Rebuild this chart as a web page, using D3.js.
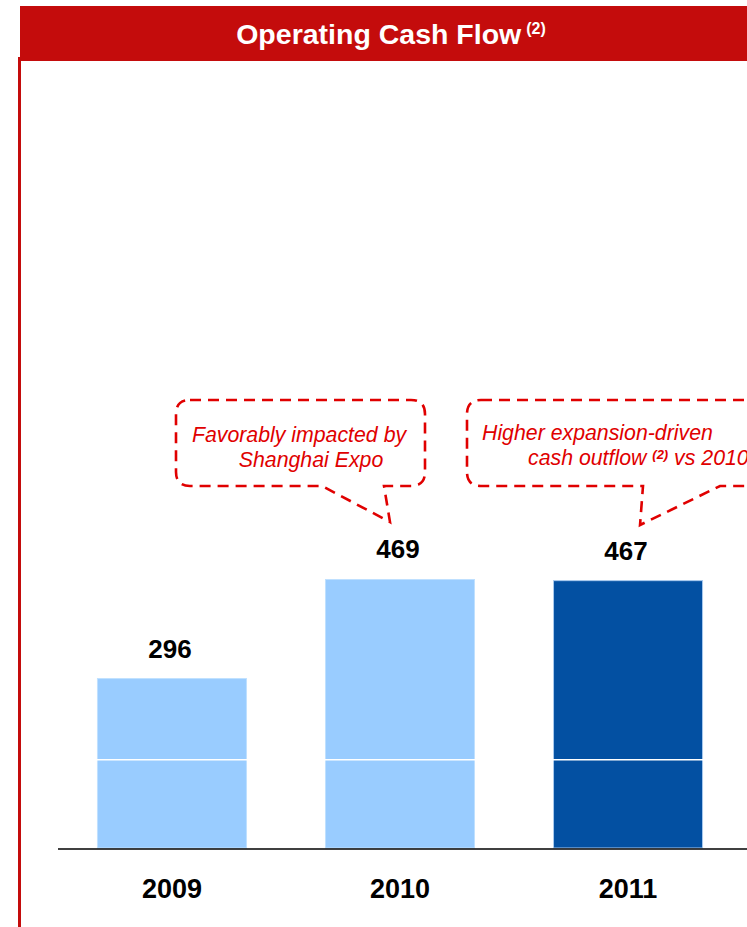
<!DOCTYPE html>
<html>
<head>
<meta charset="utf-8">
<script src="https://cdn.jsdelivr.net/npm/d3@7/dist/d3.min.js"></script>
<style>
html,body{margin:0;padding:0;background:#fff;overflow:hidden;}
svg{display:block;font-family:"Liberation Sans",Arial,sans-serif;}
</style>
</head>
<body>
<svg id="chart" width="747" height="927"></svg>
<script>
const years = ["2009", "2010", "2011"];
const values = [296, 469, 467];
const barColors = ["#99CCFF", "#99CCFF", "#0350A2"];
const dividerValue = [154];
const title = "Operating Cash Flow";
const titleNote = "(2)";

const svg = d3.select("#chart");
const red = "#C40C0C";
const dashRed = "#E00000";

// header
svg.append("rect").attr("x", 20).attr("y", 6).attr("width", 727).attr("height", 55).attr("fill", red);
svg.append("rect").attr("x", 18).attr("y", 57).attr("width", 3).attr("height", 870).attr("fill", red);
const t = svg.append("text").attr("x", 391).attr("y", 44).attr("text-anchor", "middle")
  .attr("fill", "#fff").attr("font-weight", "bold").attr("font-size", 28.5);
t.append("tspan").text(title);
t.append("tspan").attr("font-size", 16).attr("dx", 5).attr("dy", -10).text(titleNote);

// scales
const x = d3.scaleBand().domain(years).range([58, 742]).paddingInner(0.3465).paddingOuter(0.173);
const y = d3.scaleLinear().domain([0, 600]).range([848, 848 - 600 * 0.5725]);

// bars
svg.selectAll("rect.bar").data(years).enter().append("rect").attr("class", "bar")
  .attr("x", d => x(d)).attr("width", x.bandwidth())
  .attr("y", (d, i) => y(values[i])).attr("height", (d, i) => y(0) - y(values[i]))
  .attr("fill", (d, i) => barColors[i])
  .attr("stroke", (d, i) => i === 2 ? "#A9C9EE" : "#BFE0FF").attr("stroke-width", 1);

// divider line
svg.selectAll("line.div").data(dividerValue).enter().append("line")
  .attr("x1", x.range()[0]).attr("x2", x.range()[1])
  .attr("y1", d => y(d)).attr("y2", d => y(d))
  .attr("stroke", "#fff").attr("stroke-width", 1.5);

// axis baseline
svg.append("line").attr("x1", 58).attr("x2", 747).attr("y1", y(0) + 1).attr("y2", y(0) + 1)
  .attr("stroke", "#000").attr("stroke-width", 1.5);

// value labels
svg.selectAll("text.val").data(years).enter().append("text")
  .attr("x", d => x(d) + x.bandwidth() / 2 - 2)
  .attr("y", (d, i) => y(values[i]) - 21)
  .attr("text-anchor", "middle").attr("font-weight", "bold").attr("font-size", 26).attr("fill", "#000")
  .text((d, i) => values[i]);

// year labels
svg.selectAll("text.yr").data(years).enter().append("text")
  .attr("x", d => x(d) + x.bandwidth() / 2)
  .attr("y", 898)
  .attr("text-anchor", "middle").attr("font-weight", "bold").attr("font-size", 27).attr("fill", "#000")
  .text(d => d);

// callouts
function callout(x0, y0, x1, y1, r, tl, tr, tip) {
  const p = d3.path();
  p.moveTo(x0 + r, y0);
  p.lineTo(x1 - r, y0);
  p.quadraticCurveTo(x1, y0, x1, y0 + r);
  p.lineTo(x1, y1 - r);
  p.quadraticCurveTo(x1, y1, x1 - r, y1);
  p.lineTo(tr, y1);
  p.lineTo(tip[0], tip[1]);
  p.lineTo(tl, y1);
  p.lineTo(x0 + r, y1);
  p.quadraticCurveTo(x0, y1, x0, y1 - r);
  p.lineTo(x0, y0 + r);
  p.quadraticCurveTo(x0, y0, x0 + r, y0);
  p.closePath();
  return p.toString();
}
const c2010 = x("2010") + x.bandwidth() / 2;
const c2011 = x("2011") + x.bandwidth() / 2;
svg.append("path").attr("d", callout(176, 400, 425, 486, 14, 322, 384, [c2010 - 10, 522]))
  .attr("fill", "none").attr("stroke", dashRed).attr("stroke-width", 2.6).attr("stroke-dasharray", "11,7");
svg.append("path").attr("d", callout(467, 400, 800, 486, 14, 643, 720, [c2011 + 12, 525]))
  .attr("fill", "none").attr("stroke", dashRed).attr("stroke-width", 2.6).attr("stroke-dasharray", "11,7");

const noteStyle = s => s.attr("fill", "#E00000").attr("font-style", "italic").attr("font-size", 21.3);
noteStyle(svg.append("text").attr("x", 299).attr("y", 442).attr("text-anchor", "middle").text("Favorably impacted by"));
noteStyle(svg.append("text").attr("x", 311).attr("y", 467).attr("text-anchor", "middle").text("Shanghai Expo"));
noteStyle(svg.append("text").attr("x", 482).attr("y", 440).text("Higher expansion-driven"));
const t2 = noteStyle(svg.append("text").attr("x", 528).attr("y", 465));
t2.append("tspan").text("cash outflow ");
t2.append("tspan").attr("font-size", 13).attr("font-weight", "bold").attr("dy", -6).text("(2)");
t2.append("tspan").attr("dy", 6).text(" vs 2010");
</script>
</body>
</html>
